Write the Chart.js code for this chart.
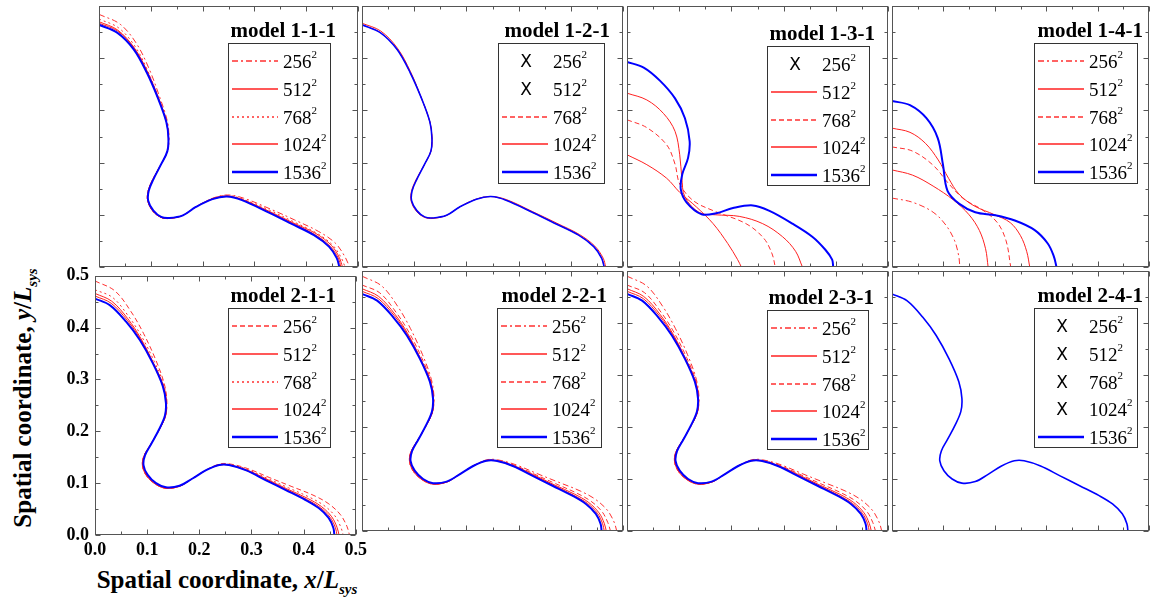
<!DOCTYPE html>
<html>
<head>
<meta charset="utf-8">
<script src="https://cdn.jsdelivr.net/npm/chart.js@4.4.0/dist/chart.umd.min.js"></script>
<style>
  body { margin: 0; background: #fff; width: 1150px; height: 607px; overflow: hidden; position: relative; font-family: 'Liberation Serif', serif; }
  canvas { position: absolute; }
  .title { position: absolute; font-weight: bold; font-size: 25px; white-space: nowrap; color: #000; }
  .title sub { font-size: 15px; font-style: italic; }
</style>
</head>
<body>
<div class="title" id="ytitle" style="left:25px;top:398px;transform:translate(-50%,-50%) rotate(-90deg);">Spatial coordinate, <i>y</i>/<i>L</i><sub>sys</sub></div>
<div class="title" id="xtitle" style="left:227px;top:582px;transform:translate(-50%,-50%);">Spatial coordinate, <i>x</i>/<i>L</i><sub>sys</sub></div>
<script>
// tick positions
const majorTicks = [0, 0.1, 0.2, 0.3, 0.4, 0.5];
const minorTicks = [0.05, 0.15, 0.25, 0.35, 0.45];
const gridLabels = ['256', '512', '768', '1024', '1536'];

// ---- row 1 interfaces (models 1-1-1, 1-2-1) ----
const blueRow1 = [[0,0.464],[0.035,0.449],[0.067,0.417],[0.092,0.373],[0.114,0.323],[0.130,0.278],[0.134,0.247],[0.132,0.222],[0.120,0.197],[0.105,0.168],[0.096,0.146],[0.095,0.127],[0.105,0.108],[0.120,0.096],[0.136,0.094],[0.162,0.099],[0.187,0.115],[0.219,0.130],[0.247,0.135],[0.276,0.128],[0.326,0.105],[0.371,0.083],[0.415,0.061],[0.444,0.039],[0.459,0.017],[0.464,0]];
const red1024Row1 = [[0,0.467],[0.036,0.452],[0.068,0.419],[0.093,0.374],[0.114,0.323],[0.130,0.278],[0.134,0.247],[0.132,0.222],[0.120,0.197],[0.104,0.168],[0.095,0.146],[0.094,0.127],[0.104,0.107],[0.120,0.095],[0.136,0.093],[0.162,0.099],[0.187,0.115],[0.219,0.130],[0.247,0.135],[0.277,0.129],[0.327,0.106],[0.373,0.084],[0.417,0.062],[0.446,0.040],[0.462,0.017],[0.467,0]];
const red512Row1 = [[0,0.470],[0.036,0.454],[0.068,0.420],[0.093,0.375],[0.115,0.324],[0.130,0.278],[0.134,0.247],[0.132,0.222],[0.120,0.197],[0.104,0.168],[0.095,0.146],[0.094,0.127],[0.104,0.107],[0.120,0.095],[0.136,0.093],[0.162,0.099],[0.187,0.115],[0.219,0.131],[0.247,0.136],[0.277,0.129],[0.328,0.107],[0.374,0.085],[0.419,0.064],[0.449,0.041],[0.464,0.018],[0.470,0]];
const red768Row1 = [[0,0.475],[0.038,0.458],[0.070,0.422],[0.094,0.376],[0.115,0.324],[0.131,0.278],[0.135,0.247],[0.132,0.222],[0.120,0.197],[0.104,0.168],[0.095,0.146],[0.094,0.127],[0.104,0.107],[0.120,0.095],[0.136,0.093],[0.162,0.099],[0.188,0.116],[0.220,0.131],[0.248,0.137],[0.278,0.130],[0.329,0.109],[0.375,0.087],[0.420,0.065],[0.450,0.043],[0.467,0.019],[0.475,0]];
const red256Row1 = [[0,0.484],[0.041,0.465],[0.073,0.427],[0.097,0.379],[0.117,0.326],[0.132,0.279],[0.135,0.247],[0.132,0.222],[0.120,0.197],[0.104,0.168],[0.095,0.146],[0.094,0.127],[0.104,0.107],[0.120,0.095],[0.136,0.093],[0.162,0.099],[0.188,0.116],[0.220,0.132],[0.248,0.138],[0.279,0.132],[0.331,0.111],[0.378,0.090],[0.424,0.068],[0.456,0.046],[0.474,0.021],[0.484,0]];

// ---- model 1-3-1 ----
const blue131 = [[0,0.393],[0.032,0.382],[0.063,0.357],[0.092,0.323],[0.111,0.285],[0.120,0.241],[0.117,0.209],[0.106,0.178],[0.103,0.149],[0.114,0.124],[0.143,0.101],[0.171,0.103],[0.203,0.113],[0.241,0.118],[0.272,0.108],[0.317,0.083],[0.355,0.058],[0.380,0.033],[0.393,0.014],[0.395,0]];
const red1024_131 = [[0,0.333],[0.038,0.320],[0.070,0.294],[0.092,0.260],[0.101,0.215],[0.105,0.171],[0.111,0.134],[0.139,0.104],[0.170,0.100],[0.215,0.097],[0.260,0.083],[0.298,0.058],[0.323,0.030],[0.336,0]];
const red768_131 = [[0,0.282],[0.038,0.267],[0.076,0.234],[0.092,0.197],[0.101,0.159],[0.127,0.127],[0.165,0.108],[0.228,0.083],[0.262,0.055],[0.278,0.025],[0.284,0]];
const red512_131 = [[0,0.215],[0.038,0.196],[0.076,0.170],[0.101,0.143],[0.133,0.115],[0.165,0.083],[0.193,0.045],[0.212,0.014],[0.219,0]];

// ---- model 1-4-1 ----
const blue141 = [[0,0.318],[0.035,0.310],[0.067,0.285],[0.089,0.247],[0.099,0.197],[0.108,0.146],[0.131,0.121],[0.162,0.105],[0.201,0.099],[0.239,0.089],[0.277,0.071],[0.303,0.045],[0.315,0.020],[0.320,0]];
const red1024_141 = [[0,0.266],[0.035,0.258],[0.065,0.237],[0.090,0.205],[0.110,0.170],[0.130,0.140],[0.160,0.117],[0.200,0.100],[0.230,0.085],[0.250,0.060],[0.262,0.030],[0.268,0]];
const red768_141 = [[0,0.230],[0.040,0.222],[0.080,0.195],[0.110,0.160],[0.140,0.130],[0.175,0.110],[0.205,0.085],[0.222,0.050],[0.231,0]];
const red512_141 = [[0,0.186],[0.040,0.176],[0.080,0.155],[0.120,0.128],[0.150,0.100],[0.170,0.070],[0.182,0.035],[0.187,0]];
const red256_141 = [[0,0.132],[0.040,0.124],[0.080,0.105],[0.105,0.080],[0.122,0.050],[0.130,0.020],[0.132,0]];

// ---- row 2 interfaces (models 2-x-1) ----
const blueRow2 = [[0,0.456],[0.029,0.443],[0.060,0.411],[0.086,0.376],[0.111,0.331],[0.130,0.287],[0.136,0.255],[0.134,0.230],[0.123,0.204],[0.108,0.176],[0.096,0.154],[0.093,0.135],[0.101,0.116],[0.117,0.100],[0.136,0.092],[0.162,0.095],[0.187,0.109],[0.213,0.125],[0.238,0.135],[0.257,0.135],[0.289,0.125],[0.327,0.106],[0.365,0.087],[0.403,0.068],[0.429,0.052],[0.448,0.033],[0.457,0.014],[0.459,0]];
const red1024Row2 = [[0,0.461],[0.031,0.447],[0.062,0.414],[0.087,0.378],[0.112,0.331],[0.131,0.287],[0.137,0.255],[0.135,0.229],[0.123,0.203],[0.107,0.175],[0.095,0.153],[0.092,0.134],[0.100,0.115],[0.117,0.099],[0.136,0.091],[0.162,0.094],[0.187,0.109],[0.213,0.125],[0.238,0.135],[0.257,0.135],[0.289,0.125],[0.328,0.107],[0.366,0.088],[0.405,0.069],[0.432,0.053],[0.451,0.034],[0.461,0.014],[0.464,0]];
const red512Row2 = [[0,0.466],[0.032,0.451],[0.063,0.417],[0.088,0.379],[0.112,0.332],[0.131,0.288],[0.137,0.255],[0.135,0.229],[0.123,0.203],[0.107,0.175],[0.094,0.153],[0.091,0.134],[0.099,0.114],[0.116,0.098],[0.136,0.090],[0.162,0.094],[0.187,0.109],[0.213,0.125],[0.238,0.135],[0.257,0.135],[0.290,0.126],[0.329,0.108],[0.368,0.089],[0.407,0.071],[0.434,0.055],[0.454,0.035],[0.464,0.015],[0.468,0]];
const red768Row2 = [[0,0.473],[0.034,0.458],[0.065,0.421],[0.090,0.382],[0.114,0.334],[0.132,0.289],[0.137,0.255],[0.135,0.229],[0.123,0.203],[0.107,0.175],[0.094,0.153],[0.091,0.134],[0.099,0.114],[0.116,0.098],[0.136,0.091],[0.162,0.094],[0.187,0.109],[0.213,0.125],[0.238,0.136],[0.258,0.136],[0.291,0.127],[0.331,0.109],[0.371,0.091],[0.411,0.073],[0.439,0.057],[0.460,0.037],[0.471,0.016],[0.476,0]];
const red256Row2 = [[0,0.490],[0.038,0.471],[0.069,0.431],[0.093,0.389],[0.116,0.339],[0.133,0.291],[0.138,0.255],[0.135,0.229],[0.123,0.203],[0.107,0.175],[0.094,0.153],[0.091,0.134],[0.099,0.114],[0.116,0.098],[0.136,0.090],[0.162,0.094],[0.187,0.109],[0.214,0.126],[0.239,0.137],[0.259,0.137],[0.293,0.128],[0.334,0.111],[0.376,0.094],[0.418,0.077],[0.447,0.061],[0.470,0.040],[0.483,0.017],[0.488,0]];

// line styles
const styles = {
  dashdot: { color: '#ff3030', width: 1, dash: [6, 3, 2, 3] },
  dashed:  { color: '#ff3030', width: 1, dash: [5, 3] },
  dotted:  { color: '#ff3030', width: 1, dash: [2, 3] },
  solid:   { color: '#ff2020', width: 1, dash: [] },
  blue:    { color: '#0000ff', width: 2, dash: [] },
  blueThin: { color: '#0000ff', width: 1.6, dash: [] }
};

const colX = [95, 358, 623, 888];
const colW = [263, 265, 265, 261];
const rowY = [6, 271];
const rowH = [265, 264];

// each panel: [256, 512, 768, 1024, 1536] -> [style, data]; 'x' = not computed
const panels = [
  { name: 'model 1-1-1', col: 0, row: 0, box: [228, 43, 331, 184],
    curves: [['dashdot', red256Row1], ['solid', red512Row1], ['dotted', red768Row1], ['solid', red1024Row1], ['blue', blueRow1]] },
  { name: 'model 1-2-1', col: 1, row: 0, box: [498, 43, 605, 184],
    curves: [['x'], ['x'], ['dashed', blueRow1], ['solid', red1024Row1], ['blueThin', blueRow1]] },
  { name: 'model 1-3-1', col: 2, row: 0, box: [767, 46, 870, 186],
    curves: [['x'], ['solid', red512_131], ['dashed', red768_131], ['solid', red1024_131], ['blue', blue131]] },
  { name: 'model 1-4-1', col: 3, row: 0, box: [1034, 43, 1138, 184],
    curves: [['dashdot', red256_141], ['solid', red512_141], ['dashed', red768_141], ['solid', red1024_141], ['blue', blue141]] },
  { name: 'model 2-1-1', col: 0, row: 1, box: [228, 308, 331, 448], axes: true,
    curves: [['dashed', red256Row2], ['solid', red512Row2], ['dotted', red768Row2], ['solid', red1024Row2], ['blue', blueRow2]] },
  { name: 'model 2-2-1', col: 1, row: 1, box: [497, 308, 602, 448],
    curves: [['dashdot', red256Row2], ['solid', red512Row2], ['dashed', red768Row2], ['solid', red1024Row2], ['blue', blueRow2]] },
  { name: 'model 2-3-1', col: 2, row: 1, box: [767, 310, 869, 450],
    curves: [['dashdot', red256Row2], ['solid', red512Row2], ['dashed', red768Row2], ['solid', red1024Row2], ['blue', blueRow2]] },
  { name: 'model 2-4-1', col: 3, row: 1, box: [1034, 308, 1138, 448],
    curves: [['x'], ['x'], ['x'], ['x'], ['blueThin', blueRow2]] }
];

const serif = '"Liberation Serif", "Times New Roman", serif';

panels.forEach(p => {
  const left = colX[p.col], top = rowY[p.row], w = colW[p.col], h = rowH[p.row];
  const padL = p.axes ? 70 : 4, padB = p.axes ? 30 : 4, padT = 12, padR = 14;
  const cx = left - padL, cy = top - padT;

  const canvas = document.createElement('canvas');
  canvas.width = w + padL + padR;
  canvas.height = h + padT + padB;
  canvas.style.left = cx + 'px';
  canvas.style.top = cy + 'px';
  document.body.appendChild(canvas);

  // blue first so it is drawn on top
  const datasets = [];
  for (let i = p.curves.length - 1; i >= 0; i--) {
    const c = p.curves[i];
    if (c[0] === 'x') continue;
    const s = styles[c[0]];
    datasets.push({
      label: gridLabels[i],
      data: c[1].map(q => ({ x: q[0], y: q[1] })),
      showLine: true,
      pointRadius: 0,
      borderColor: s.color,
      borderWidth: s.width,
      borderDash: s.dash,
      tension: 0.35,
      fill: false
    });
  }

  const frame = {
    id: 'frame',
    afterDraw(chart) {
      const ctx = chart.ctx, a = chart.chartArea;
      const xs = chart.scales.x, ys = chart.scales.y;
      ctx.save();
      ctx.strokeStyle = '#555';
      ctx.lineWidth = 1;
      ctx.setLineDash([]);
      const l = Math.round(a.left) + 0.5, r = Math.round(a.right) - 0.5;
      const t = Math.round(a.top) + 0.5, b = Math.round(a.bottom) - 0.5;
      ctx.strokeRect(l, t, r - l, b - t);
      ctx.beginPath();
      const tick = (v, len) => {
        const px = Math.round(xs.getPixelForValue(v)) + 0.5;
        ctx.moveTo(px, b); ctx.lineTo(px, b - len);
        ctx.moveTo(px, t); ctx.lineTo(px, t + len);
        const py = Math.round(ys.getPixelForValue(v)) + 0.5;
        ctx.moveTo(l, py); ctx.lineTo(l + len, py);
        ctx.moveTo(r, py); ctx.lineTo(r - len, py);
      };
      majorTicks.forEach(v => tick(v, 5));
      minorTicks.forEach(v => tick(v, 3));
      ctx.stroke();

      // legend box
      const [bl, bt, br, bb] = p.box.map((v, i) => v - (i % 2 === 0 ? cx : cy));
      ctx.fillStyle = '#fff';
      ctx.fillRect(bl, bt, br - bl, bb - bt);
      ctx.strokeStyle = '#333';
      ctx.strokeRect(bl + 0.5, bt + 0.5, br - bl - 1, bb - bt - 1);

      ctx.fillStyle = '#000';
      ctx.font = 'bold 21px ' + serif;
      ctx.textAlign = 'right';
      ctx.textBaseline = 'alphabetic';
      ctx.fillText(p.name, br + 5, bt - 6);

      ctx.textAlign = 'left';
      p.curves.forEach((c, i) => {
        const ly = Math.round(bt + 18 + i * 27.8);
        if (c[0] === 'x') {
          ctx.font = '17px "DejaVu Sans", sans-serif';
          ctx.textAlign = 'center';
          ctx.fillText('X', bl + 28, ly + 6);
          ctx.textAlign = 'left';
        } else {
          const s = styles[c[0]];
          ctx.strokeStyle = s.color;
          ctx.lineWidth = s.color === '#0000ff' ? 2.5 : 1.5;
          ctx.setLineDash(s.dash);
          ctx.beginPath();
          ctx.moveTo(bl + 4, ly);
          ctx.lineTo(bl + 50, ly);
          ctx.stroke();
          ctx.setLineDash([]);
        }
        ctx.font = '19px ' + serif;
        const tx = bl + 55;
        ctx.fillText(gridLabels[i], tx, ly + 7);
        const tw = ctx.measureText(gridLabels[i]).width;
        ctx.font = '11px ' + serif;
        ctx.fillText('2', tx + tw, ly - 3);
      });
      ctx.restore();
    }
  };

  const tickFont = { family: serif, size: 18, weight: 'bold' };
  new Chart(canvas, {
    type: 'scatter',
    data: { datasets },
    options: {
      responsive: false,
      animation: false,
      events: [],
      layout: { padding: { left: p.axes ? 0 : padL, right: padR, top: padT, bottom: p.axes ? 0 : padB } },
      plugins: { legend: { display: false }, tooltip: { enabled: false } },
      scales: {
        x: {
          type: 'linear', min: 0, max: 0.5,
          display: !!p.axes,
          grid: { display: false, drawTicks: false },
          border: { display: false },
          ticks: { stepSize: 0.1, color: '#000', font: tickFont, padding: 5, maxRotation: 0,
                   callback: v => Number(v).toFixed(1) },
          afterFit: s => { s.height = padB; }
        },
        y: {
          type: 'linear', min: 0, max: 0.5,
          display: !!p.axes,
          grid: { display: false, drawTicks: false },
          border: { display: false },
          ticks: { stepSize: 0.1, color: '#000', font: tickFont, padding: 6,
                   callback: v => Number(v).toFixed(1) },
          afterFit: s => { s.width = padL; }
        }
      }
    },
    plugins: [frame]
  });
});
</script>
</body>
</html>
